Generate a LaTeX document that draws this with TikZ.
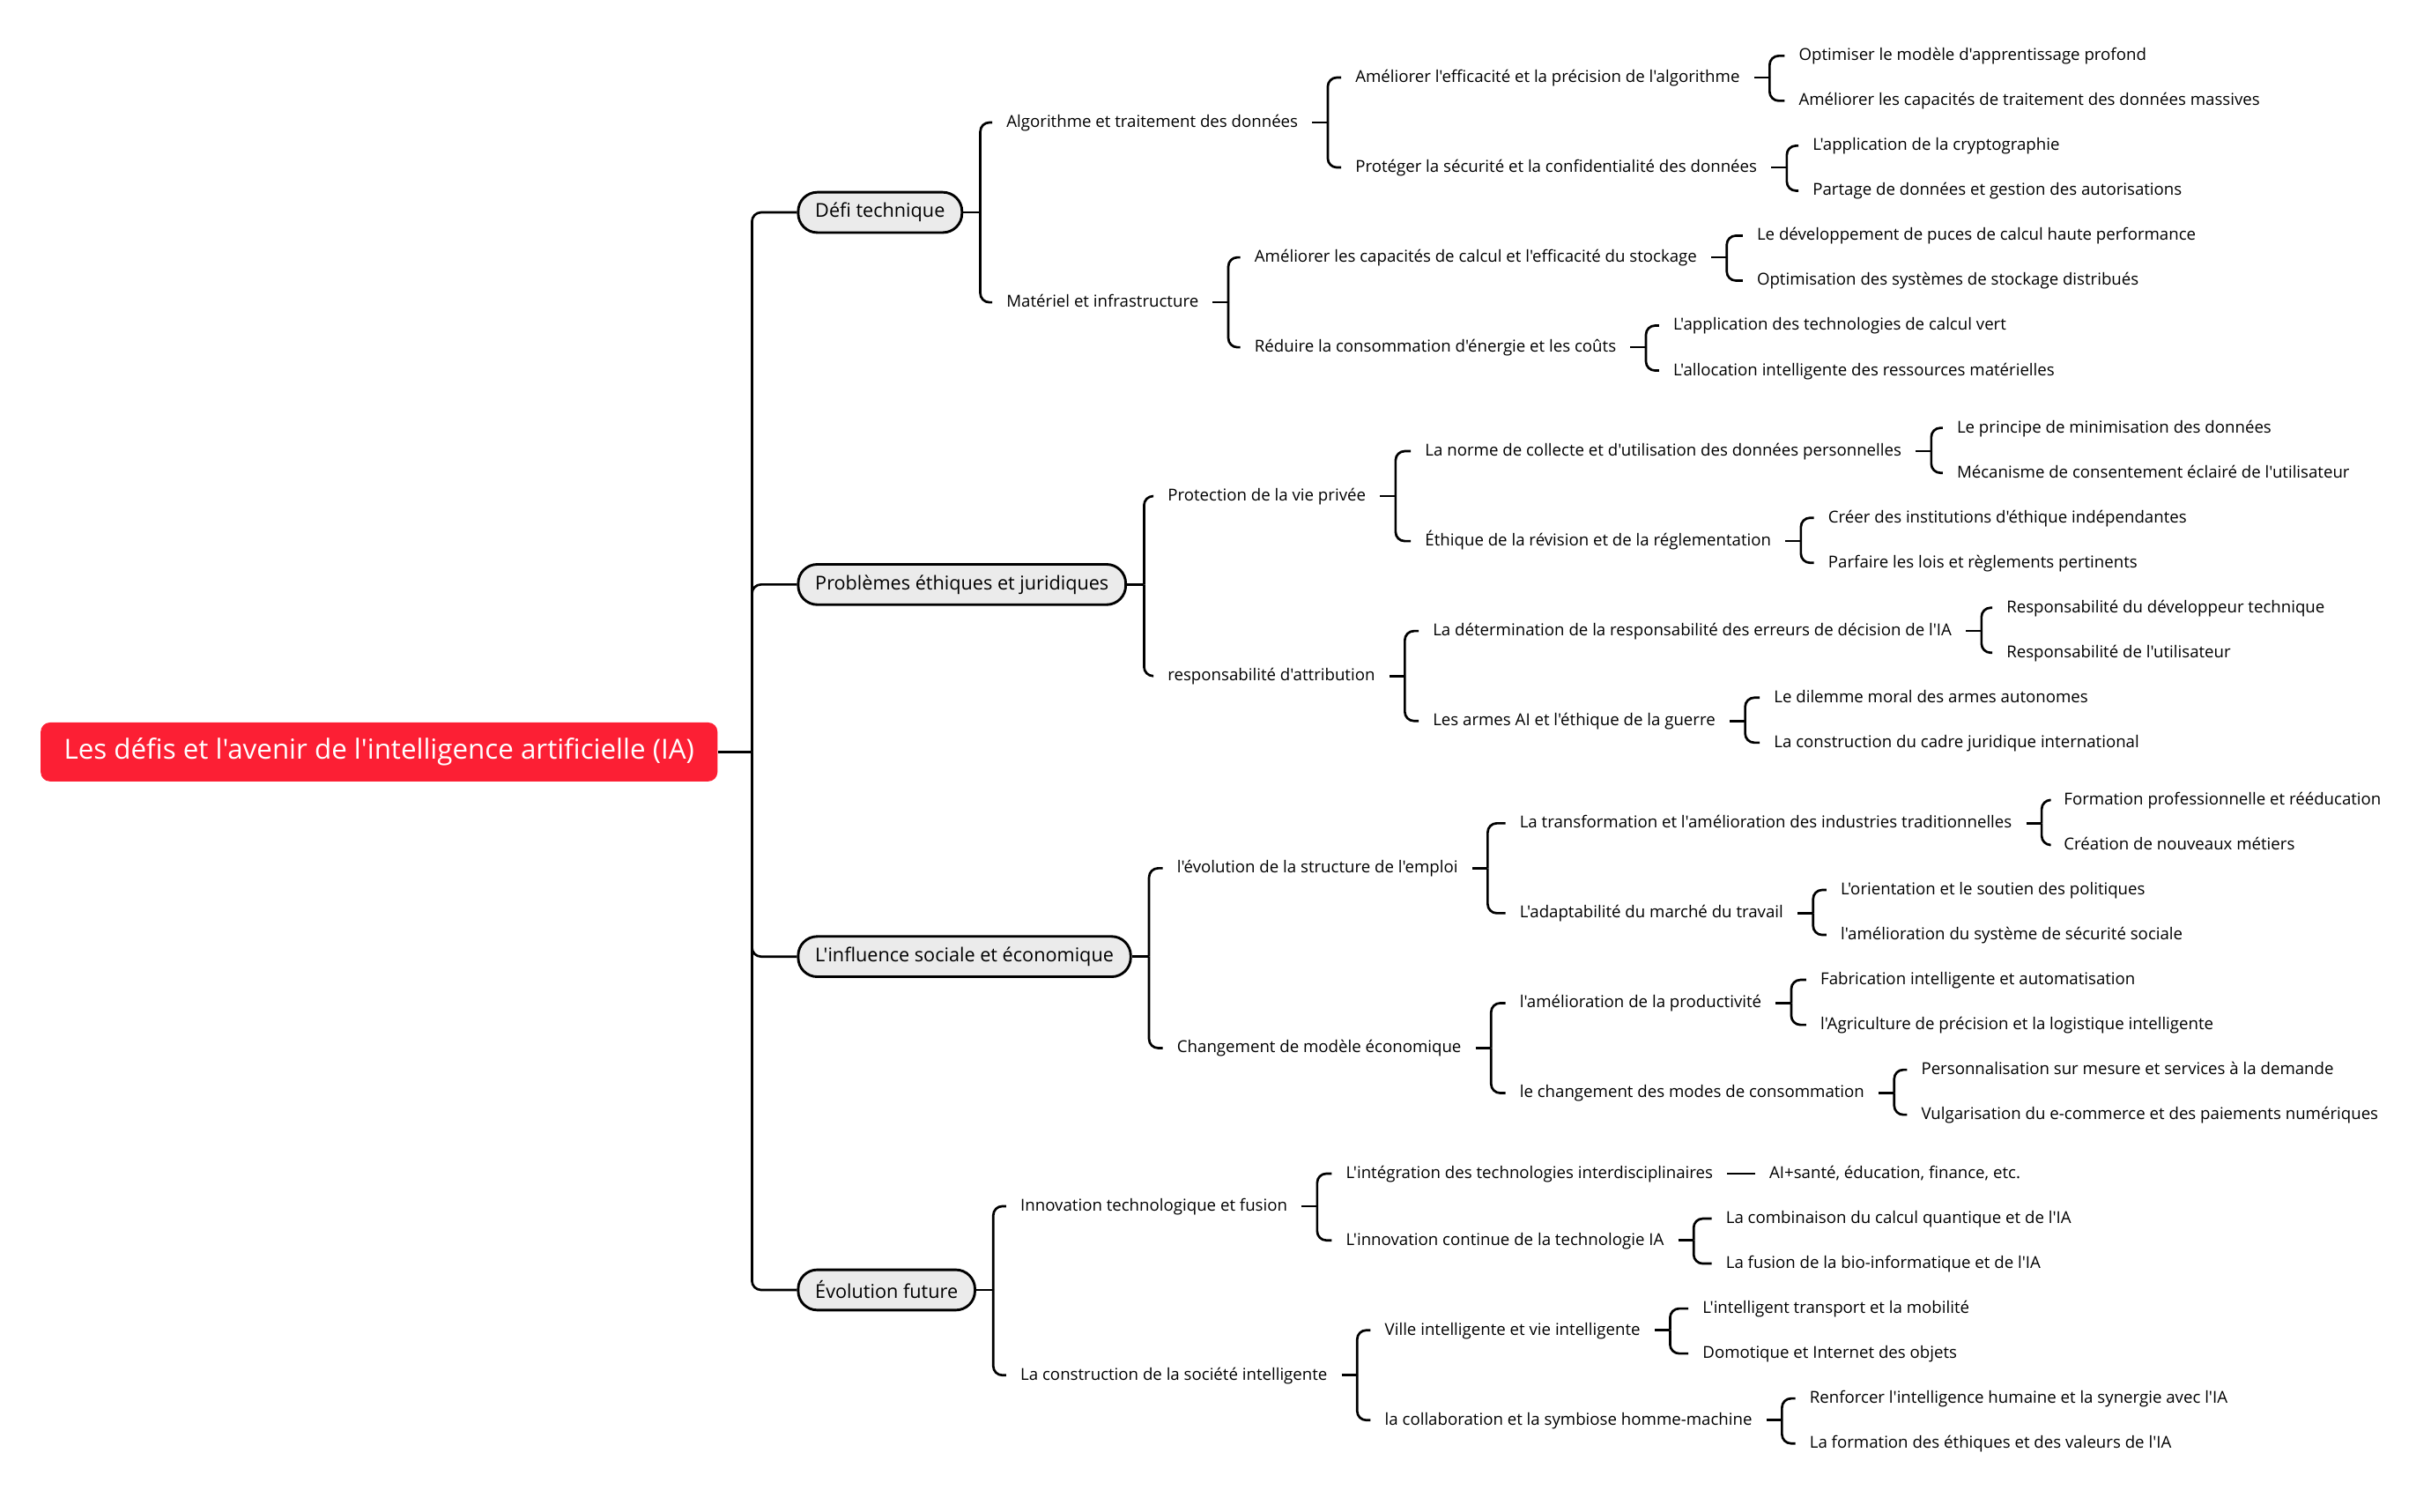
\documentclass[tikz,border=0pt]{standalone}
\usepackage{fontspec}
\setmainfont{Open Sans}[Ligatures=TeXOff]
\definecolor{rouge}{HTML}{FC1F34}
\definecolor{grisclair}{HTML}{EBEBEB}
% branche : parent, longueur du talon, liste des enfants
\newcommand{\fourche}[3]{%
	\draw[lien] (#1.east) -- ++(#2,0) coordinate (#1-f);
	\foreach \enf in {#3} \draw[lien, rounded corners=5pt] (#1-f) |- (\enf.west);}
\begin{document}
\begin{tikzpicture}[x=0.03cm, y=-0.03cm,
		lien/.style={line width=1.3pt, black},
		racine/.style={anchor=west, fill=rouge, text=white, rounded corners=0.18cm, inner xsep=0.45cm,
			minimum height=1.14cm, font=\fontsize{15.2}{17}\selectfont},
		theme/.style={anchor=west, draw, line width=1.4pt, fill=grisclair, rounded corners=0.37cm,
			inner xsep=0.33cm, minimum height=0.78cm, font=\fontsize{10.5}{12}\selectfont},
		txt/.style={anchor=west, inner xsep=0.27cm, inner ysep=1pt, text height=0.75em, text depth=0.22em,
			font=\fontsize{9.05}{10}\selectfont}]
		\useasboundingbox (0,0) rectangle (1568,975);
		% Racine
		\node[racine] (racine) at (26,485) {Les défis et l'avenir de l'intelligence artificielle (IA)};
		% Thèmes principaux
		\node[theme] (defi) at (514,137) {Défi technique};
		\node[theme] (ethique) at (514,377) {Problèmes éthiques et juridiques};
		\node[theme] (social) at (514,617) {L'influence sociale et économique};
		\node[theme] (futur) at (514,832) {Évolution future};
		% Défi technique
		\node[txt] (algo) at (640,79) {Algorithme et traitement des données};
		\node[txt] (mat) at (640,195) {Matériel et infrastructure};
		\node[txt] (algoA) at (865,50) {Améliorer l'efficacité et la précision de l'algorithme};
		\node[txt] (algoB) at (865,108) {Protéger la sécurité et la confidentialité des données};
		\node[txt] (matA) at (800,166) {Améliorer les capacités de calcul et l'efficacité du stockage};
		\node[txt] (matB) at (800,224) {Réduire la consommation d'énergie et les coûts};
		\node[txt] (algoA1) at (1151,36) {Optimiser le modèle d'apprentissage profond};
		\node[txt] (algoA2) at (1151,65) {Améliorer les capacités de traitement des données massives};
		\node[txt] (algoB1) at (1160,94) {L'application de la cryptographie};
		\node[txt] (algoB2) at (1160,123) {Partage de données et gestion des autorisations};
		\node[txt] (matA1) at (1124,152) {Le développement de puces de calcul haute performance};
		\node[txt] (matA2) at (1124,181) {Optimisation des systèmes de stockage distribués};
		\node[txt] (matB1) at (1070,210) {L'application des technologies de calcul vert};
		\node[txt] (matB2) at (1070,239) {L'allocation intelligente des ressources matérielles};
		% Problèmes éthiques et juridiques
		\node[txt] (vie) at (744,320) {Protection de la vie privée};
		\node[txt] (resp) at (744,436) {responsabilité d'attribution};
		\node[txt] (vieA) at (910,291) {La norme de collecte et d'utilisation des données personnelles};
		\node[txt] (vieB) at (910,349) {Éthique de la révision et de la réglementation};
		\node[txt] (respA) at (915,407) {La détermination de la responsabilité des erreurs de décision de l'IA};
		\node[txt] (respB) at (915,465) {Les armes AI et l'éthique de la guerre};
		\node[txt] (vieA1) at (1253,276) {Le principe de minimisation des données};
		\node[txt] (vieA2) at (1253,305) {Mécanisme de consentement éclairé de l'utilisateur};
		\node[txt] (vieB1) at (1170,334) {Créer des institutions d'éthique indépendantes};
		\node[txt] (vieB2) at (1170,363) {Parfaire les lois et règlements pertinents};
		\node[txt] (respA1) at (1285,392) {Responsabilité du développeur technique};
		\node[txt] (respA2) at (1285,421) {Responsabilité de l'utilisateur};
		\node[txt] (respB1) at (1135,450) {Le dilemme moral des armes autonomes};
		\node[txt] (respB2) at (1135,479) {La construction du cadre juridique international};
		% L'influence sociale et économique
		\node[txt] (emploi) at (750,560) {l'évolution de la structure de l'emploi};
		\node[txt] (eco) at (750,676) {Changement de modèle économique};
		\node[txt] (emploiA) at (971,531) {La transformation et l'amélioration des industries traditionnelles};
		\node[txt] (emploiB) at (971,589) {L'adaptabilité du marché du travail};
		\node[txt] (ecoA) at (971,647) {l'amélioration de la productivité};
		\node[txt] (ecoB) at (971,705) {le changement des modes de consommation};
		\node[txt] (emploiA1) at (1322,516) {Formation professionnelle et rééducation};
		\node[txt] (emploiA2) at (1322,545) {Création de nouveaux métiers};
		\node[txt] (emploiB1) at (1178,574) {L'orientation et le soutien des politiques};
		\node[txt] (emploiB2) at (1178,603) {l'amélioration du système de sécurité sociale};
		\node[txt] (ecoA1) at (1165,632) {Fabrication intelligente et automatisation};
		\node[txt] (ecoA2) at (1165,661) {l'Agriculture de précision et la logistique intelligente};
		\node[txt] (ecoB1) at (1230,690) {Personnalisation sur mesure et services à la demande};
		\node[txt] (ecoB2) at (1230,719) {Vulgarisation du e-commerce et des paiements numériques};
		% Évolution future
		\node[txt] (innov) at (649,778) {Innovation technologique et fusion};
		\node[txt] (soc) at (649,887) {La construction de la société intelligente};
		\node[txt] (innovA) at (859,757) {L'intégration des technologies interdisciplinaires};
		\node[txt] (innovB) at (859,800) {L'innovation continue de la technologie IA};
		\node[txt] (socA) at (884,858) {Ville intelligente et vie intelligente};
		\node[txt] (socB) at (884,916) {la collaboration et la symbiose homme-machine};
		\node[txt] (innovA1) at (1132,757) {AI+santé, éducation, finance, etc.};
		\node[txt] (innovB1) at (1104,786) {La combinaison du calcul quantique et de l'IA};
		\node[txt] (innovB2) at (1104,815) {La fusion de la bio-informatique et de l'IA};
		\node[txt] (socA1) at (1089,844) {L'intelligent transport et la mobilité};
		\node[txt] (socA2) at (1089,873) {Domotique et Internet des objets};
		\node[txt] (socB1) at (1158,902) {Renforcer l'intelligence humaine et la synergie avec l'IA};
		\node[txt] (socB2) at (1158,931) {La formation des éthiques et des valeurs de l'IA};
		% Liens
		\fourche{racine}{22}{defi,ethique,social,futur}
		\fourche{defi}{11}{algo,mat}
		\fourche{ethique}{11}{vie,resp}
		\fourche{social}{11}{emploi,eco}
		\fourche{futur}{11}{innov,soc}
		\fourche{algo}{10}{algoA,algoB}
		\fourche{mat}{10}{matA,matB}
		\fourche{vie}{10}{vieA,vieB}
		\fourche{resp}{10}{respA,respB}
		\fourche{emploi}{10}{emploiA,emploiB}
		\fourche{eco}{10}{ecoA,ecoB}
		\fourche{innov}{10}{innovA,innovB}
		\fourche{soc}{10}{socA,socB}
		\fourche{algoA}{10}{algoA1,algoA2}
		\fourche{algoB}{10}{algoB1,algoB2}
		\fourche{matA}{10}{matA1,matA2}
		\fourche{matB}{10}{matB1,matB2}
		\fourche{vieA}{10}{vieA1,vieA2}
		\fourche{vieB}{10}{vieB1,vieB2}
		\fourche{respA}{10}{respA1,respA2}
		\fourche{respB}{10}{respB1,respB2}
		\fourche{emploiA}{10}{emploiA1,emploiA2}
		\fourche{emploiB}{10}{emploiB1,emploiB2}
		\fourche{ecoA}{10}{ecoA1,ecoA2}
		\fourche{ecoB}{10}{ecoB1,ecoB2}
		\draw[lien] (innovA) -- (innovA1);
		\fourche{innovB}{10}{innovB1,innovB2}
		\fourche{socA}{10}{socA1,socA2}
		\fourche{socB}{10}{socB1,socB2}
	\end{tikzpicture}
\end{document}
